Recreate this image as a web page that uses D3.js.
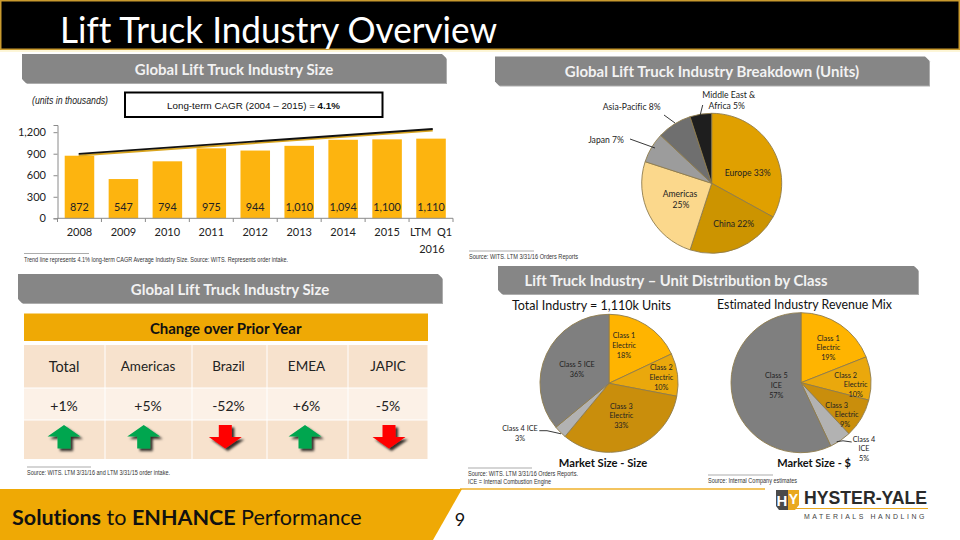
<!DOCTYPE html>
<html><head><meta charset="utf-8">
<script src="https://cdn.jsdelivr.net/npm/d3@7"></script>
<style>html,body{margin:0;padding:0;background:#fff}svg{display:block}text{font-variant-ligatures:none}</style></head>
<body><svg id="c" width="960" height="540" viewBox="0 0 960 540"></svg>
<script>
// ---- data ----
const years = ["2008","2009","2010","2011","2012","2013","2014","2015","LTM  Q1"];
const sizes = [872,547,794,975,944,1010,1094,1100,1110];
const yTicks = [0,300,600,900,1200];
const trendEnds = [897,1245];
const breakdownNames = ["Europe","China","Americas","Japan","Asia-Pacific","Middle East & Africa"];
const breakdownValues = [33,22,25,7,8,5];
const unitClasses = ["Class 1 Electric","Class 2 Electric","Class 3 Electric","Class 4 ICE","Class 5 ICE"];
const unitValues = [18,10,33,3,36];
const revenueValues = [19,10,9,5,57];
const regions = ["Total","Americas","Brazil","EMEA","JAPIC"];
const regionChange = [1,5,-52,6,-5];

// ---- style ----
const BODY = "Lato, 'Open Sans', sans-serif";
const ARIAL = "'Liberation Sans', Arial, sans-serif";
const svg = d3.select("#c");
const defs = svg.append("defs");
const f = defs.append("filter").attr("id","sh").attr("x","-30%").attr("y","-30%").attr("width","170%").attr("height","170%");
f.append("feDropShadow").attr("dx",2.5).attr("dy",2.5).attr("stdDeviation",1.3).attr("flood-color","#000").attr("flood-opacity",.8);
const fb = defs.append("filter").attr("id","bsh").attr("x","-5%").attr("y","-20%").attr("width","110%").attr("height","150%");
fb.append("feDropShadow").attr("dx",1).attr("dy",1).attr("stdDeviation",.7).attr("flood-color","#777").attr("flood-opacity",.6);

function txt(s,x,y,o={}){
  const t = svg.append("text").attr("x",x).attr("y",y).attr("dominant-baseline","central")
    .attr("text-anchor",o.a||"middle").attr("font-family",o.f||BODY).attr("font-size",o.s||10)
    .attr("font-weight",o.w||400).attr("font-style",o.i||null).attr("fill",o.c||"#111").text(s);
  if(o.len) t.attr("textLength",o.len).attr("lengthAdjust","spacingAndGlyphs");
  if(o.ls) t.attr("letter-spacing",o.ls);
  return t;
}
function fitWidth(t,w){
  const s=+t.attr("font-size");
  t.attr("font-size",s*w/t.node().getComputedTextLength());
}
function banner(x0,x1,y0,y1,label,lx,anchor,len){
  const c=4;
  svg.append("path").attr("d",`M${x0},${y0}H${x1-c}L${x1},${y0+c}V${y1}H${x0+c}L${x0},${y1-c}Z`)
    .attr("fill","#868686").attr("filter","url(#bsh)");
  txt(label,lx,(y0+y1)/2,{s:15,w:700,c:"#f2f2f2",a:anchor||"middle",len});
}
function note(lines,x,y,lineX1,lens){
  svg.append("line").attr("x1",x).attr("x2",lineX1).attr("y1",y).attr("y2",y).attr("stroke","#888").attr("stroke-width",.7);
  lines.forEach((l,i)=>txt(l,x,y+5.8+i*8,{f:ARIAL,s:6.6,a:"start",c:"#333",len:lens[i]}));
}

// ---- header ----
svg.append("rect").attr("x",0.75).attr("y",0.75).attr("width",958.5).attr("height",48.5)
  .attr("fill","#000").attr("stroke","#c99a2e").attr("stroke-width",1.5);
svg.append("rect").attr("x",0).attr("y",50).attr("width",960).attr("height",2).attr("fill","#fdf6d8");
txt("Lift Truck Industry Overview",60,28.5,{s:37,a:"start",c:"#fff",len:437});

// ---- banners ----
banner(22,446,54,83,"Global Lift Truck Industry Size",234);
banner(495,929,56.5,85.5,"Global Lift Truck Industry Breakdown (Units)",712);
banner(18,442,274,303,"Global Lift Truck Industry Size",230);
banner(498,918,266,294,"Lift Truck Industry \u2013 Unit Distribution by Class",524.5,"start",303);

// ---- bar chart ----
txt("(units in thousands)",32,100,{f:ARIAL,s:10,i:"italic",a:"start",c:"#222",len:76});
svg.append("rect").attr("x",125).attr("y",92.5).attr("width",257.5).attr("height",24.5).attr("fill","#fff").attr("stroke","#000").attr("stroke-width",2);
const cagr = txt("",253.5,105,{f:ARIAL,s:10,c:"#111"});
cagr.append("tspan").text("Long-term CAGR (2004 \u2013 2015) = ");
cagr.append("tspan").attr("font-weight",700).text("4.1%");
fitWidth(cagr,173);

const x = d3.scaleBand().domain(years).range([57.5,453]).paddingInner(.328).paddingOuter(.164);
const y = d3.scaleLinear().domain([0,1300]).range([218.3,125]);
svg.append("g").selectAll("rect").data(sizes).join("rect")
  .attr("x",(d,i)=>x(years[i])).attr("width",x.bandwidth())
  .attr("y",d=>y(d)).attr("height",d=>y(0)-y(d)).attr("fill","#fdb40f");
svg.append("g").selectAll("text").data(sizes).join("text")
  .attr("x",(d,i)=>x(years[i])+x.bandwidth()/2).attr("y",206).attr("dominant-baseline","central")
  .attr("text-anchor","middle").attr("font-family",BODY).attr("font-size",10.8).attr("fill","#222")
  .text(d3.format(","));
const yAxis = svg.append("g").attr("transform","translate(57.5,0)")
  .call(d3.axisLeft(y).tickValues(yTicks).tickSize(4).tickPadding(7.5).tickFormat(d3.format(",")));
const xAxis = svg.append("g").attr("transform","translate(0,218.3)")
  .call(d3.axisBottom(x).tickSize(0).tickPadding(10));
[yAxis,xAxis].forEach(g=>{
  g.selectAll("path,line").attr("stroke","#8a8a8a");
  g.selectAll("text").attr("font-family",BODY).attr("font-size",11).attr("fill","#222");
});
xAxis.selectAll("path").attr("d","M57.5,0H453");
xAxis.selectAll("text").style("white-space","pre");
svg.append("g").selectAll("line").data(years.concat("end")).join("line")
  .attr("x1",(d,i)=>57.5+i*x.step()).attr("x2",(d,i)=>57.5+i*x.step())
  .attr("y1",218.3).attr("y2",222).attr("stroke","#8a8a8a");
txt("2016",432,248.7,{s:11,c:"#222"});
const trendX = d3.scalePoint().domain([0,1]).range([x(years[0])+x.bandwidth()/2-.8, x(years[8])+x.bandwidth()/2+1.7]);
const trendLine = d3.line().x((d,i)=>trendX(i)).y(d=>y(d));
svg.append("path").attr("d",trendLine(trendEnds)).attr("transform","translate(0,1.5)").attr("stroke","#d9a520").attr("stroke-width",2).attr("fill","none");
svg.append("path").attr("d",trendLine(trendEnds)).attr("stroke","#111").attr("stroke-width",1.9).attr("fill","none");
note(["Trend line represents 4.1% long-term CAGR Average Industry Size. Source:  WITS.  Represents order intake."],24,253.5,89,[264]);

// ---- pies ----
function pie(values,cx,cy,r,colors,stroke){
  const arcs = d3.pie().sort(null).startAngle(0).endAngle(2*Math.PI)(values);
  const arc = d3.arc().innerRadius(0).outerRadius(r);
  svg.append("g").attr("transform",`translate(${cx},${cy})`)
    .selectAll("path").data(arcs).join("path").attr("d",arc)
    .attr("fill",(d,i)=>colors[i]).attr("stroke",stroke).attr("stroke-width",.9);
}
function lines(arr,s,c){arr.forEach(([t,x,y])=>txt(t,x,y,{s:s||8.6,c:c||"#222"}));}
function leader(pts){svg.append("polyline").attr("points",pts.join(" ")).attr("fill","none").attr("stroke","#222").attr("stroke-width",.9);}

pie(breakdownValues,711.7,183.3,70,["#e0a000","#cc9400","#fbd88c","#9c9c9c","#6f6f6f","#1e1e1e"],"#8f7c4c");
lines([[`${breakdownNames[0]} ${breakdownValues[0]}%`,747.7,173.3],[`${breakdownNames[1]} ${breakdownValues[1]}%`,733.7,223.7],
 [breakdownNames[2],680,194.3],[`${breakdownValues[2]}%`,681,205.3],
 [`${breakdownNames[3]} ${breakdownValues[3]}%`,606,139.7],[`${breakdownNames[4]}  ${breakdownValues[4]}%`,631.7,107.3],
 ["Middle East &",728.7,95],[`Africa ${breakdownValues[5]}%`,726.7,106]]);
leader([[630,139],[655,148]]);leader([[664,115],[675,123]]);leader([[702.7,105],[700,115.7]]);
note(["Source: WITS.  LTM 3/31/16 Orders Reports"],469,251,534,[109]);

const pieTitle = {s:12.5,c:"#111"};
txt("Total Industry  = 1,110k Units",591.5,305.7,{...pieTitle,len:159});
txt("Estimated Industry Revenue Mix",804.5,304.7,{...pieTitle,len:175});
const classColors=["#ffb400","#eaa80c","#c98e0c","#b2b2b2","#7f7f7f"];
pie(unitValues,609,383.3,69,classColors,"#8f7c4c");
pie(revenueValues,801,382.7,70,classColors,"#8f7c4c");
lines([["Class 1",624,335.7],["Electric",624,345],[`${unitValues[0]}%`,624,355],
 ["Class 2",661.3,367.3],["Electric",661.3,377],[`${unitValues[1]}%`,661.3,387],
 ["Class 3",621.3,406],["Electric",621.3,415.3],[`${unitValues[2]}%`,621.3,425.3],
 ["Class 4 ICE",520,428.3],[`${unitValues[3]}%`,520,438],
 ["Class 5 ICE",577,364.7],[`${unitValues[4]}%`,577,374]],7.3);
leader([[539.3,430.7],[547,430.7],[561,433.8]]);
lines([["Class 1",828.3,338],["Electric",828.3,347.7],[`${revenueValues[0]}%`,828.3,357.3],
 ["Class 2",845.7,375],["Electric",855.7,384.3],[`${revenueValues[1]}%`,855.7,394],
 ["Class 3",836.7,405],["Electric",846.7,414.7],[`${revenueValues[2]}%`,845,424],
 ["Class 4",864,439.3],["ICE",864,448.7],[`${revenueValues[3]}%`,864,458.3],
 ["Class 5",776.3,375.7],["ICE",776.3,385.3],[`${revenueValues[4]}%`,776.3,395]],7.3);
leader([[836.7,441.7],[843,440.8],[851.7,442]]);
txt("Market Size - Size",603,462.3,{s:11.2,w:700,c:"#111"});
txt("Market Size - $",814,462.3,{s:11,w:700,c:"#111"});
note(["Source: WITS.  LTM 3/31/16 Orders Reports.","ICE = Internal Combustion Engine"],468,468,532,[110,83]);
note(["Source: Internal Company estimates"],708,475,773,[89]);

// ---- table ----
const colEdges=[24,105,192,267,348,428];
svg.append("rect").attr("x",24).attr("y",313.5).attr("width",404).attr("height",27.5).attr("fill","#efa905");
txt("Change over Prior Year",225.7,328,{s:15,w:700,c:"#111"});
const rowsY=[[345,387.5,"#f7e2cd"],[388.5,419.5,"#fcf1e7"],[420.5,459,"#f7e2cd"]];
rowsY.forEach(([a,b,col])=>{
  svg.append("g").selectAll("rect").data(regions).join("rect")
    .attr("x",(d,i)=>colEdges[i]+(i?.5:0)).attr("width",(d,i)=>colEdges[i+1]-colEdges[i]-(i?1:.5))
    .attr("y",a).attr("height",b-a).attr("fill",col);
});
const labelX=[64,148,228.5,306.5,388];
const arrowX=[64,143.7,225.3,305,389];
regions.forEach((r,i)=>{
  txt(r,labelX[i],366,{s:i?13.5:14.5,c:"#222"});
  const v=regionChange[i];
  txt((v>0?"+":"")+v+"%",labelX[i],405,{s:14,c:"#222"});
  const up=v>0, cx=arrowX[i], top=425, h=23.5, hw=16.5, sw=6.5, hh=11.5;
  const d = up
   ? `M${cx},${top}L${cx+hw},${top+hh}H${cx+sw}V${top+h}H${cx-sw}V${top+hh}H${cx-hw}Z`
   : `M${cx-sw},${top}H${cx+sw}V${top+h-hh}H${cx+hw}L${cx},${top+h}L${cx-hw},${top+h-hh}H${cx-sw}Z`;
  svg.append("path").attr("d",d).attr("fill",up?"#00a650":"#ff0000").attr("filter","url(#sh)");
});
note(["Source: WITS.  LTM 3/31/16 and LTM 3/31/15 order intake."],27,467,91,[143]);

// ---- footer ----
svg.append("line").attr("x1",460).attr("x2",765).attr("y1",489).attr("y2",489).attr("stroke","#efb02a").attr("stroke-width",1.3);
svg.append("path").attr("d","M0,489H462L433,540H0Z").attr("fill","#efa905");
const foot = txt("",12,517,{s:22,a:"start",c:"#111"});
foot.append("tspan").attr("font-weight",700).text("Solutions");
foot.append("tspan").text(" to ");
foot.append("tspan").attr("font-weight",700).text("ENHANCE");
foot.append("tspan").text(" Performance");
fitWidth(foot,350);
txt("9",460,518.5,{s:18,c:"#111"});

// ---- logo ----
svg.append("path").attr("d","M776,490H788V510H779L776,506Z").attr("fill","#4a4a4a");
svg.append("path").attr("d","M788,490H799V505L795,510H788Z").attr("fill","#e9a820");
txt("H",782,500,{f:ARIAL,s:15,w:700,c:"#fff"});
txt("Y",793.5,499,{f:ARIAL,s:14,w:700,c:"#fff"});
txt("HYSTER-YALE",804,498,{f:ARIAL,s:18,w:700,a:"start",c:"#2a2a2a",len:123});
svg.append("line").attr("x1",795).attr("x2",928).attr("y1",508.5).attr("y2",508.5).attr("stroke","#e9a820").attr("stroke-width",1.2);
txt("MATERIALS HANDLING",804,516,{f:ARIAL,s:7,a:"start",c:"#444",ls:2.6,len:123});
</script></body></html>
